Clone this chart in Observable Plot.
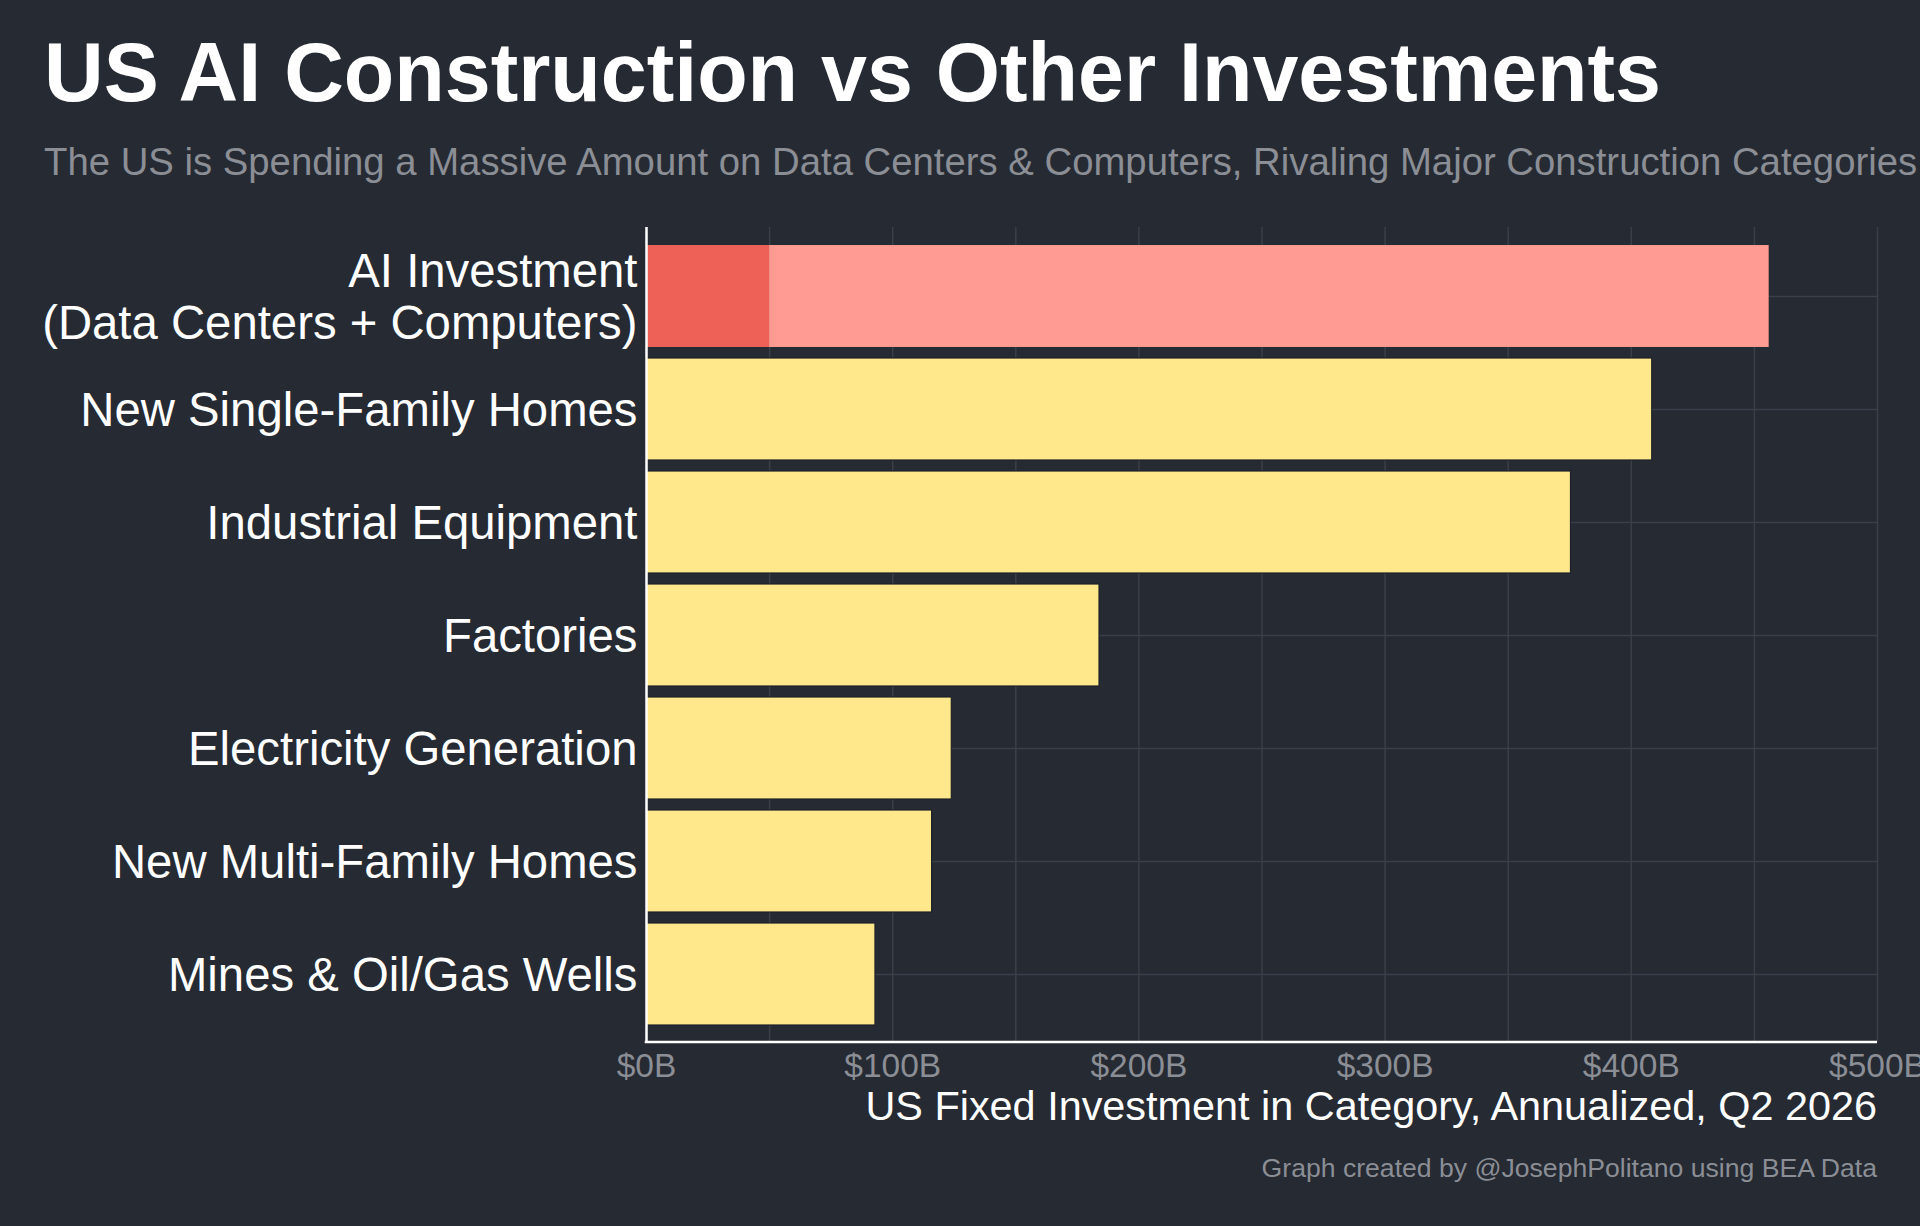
<!DOCTYPE html>
<html>
<head>
<meta charset="utf-8">
<script src="https://cdn.jsdelivr.net/npm/d3@7"></script>
<script src="https://cdn.jsdelivr.net/npm/@observablehq/plot@0.6"></script>
<style>
  html, body { margin: 0; padding: 0; background: #252a33; width: 1920px; height: 1226px; overflow: hidden;
    font-family: "Liberation Sans", Arial, Helvetica, sans-serif; }
  #wrap { position: relative; width: 1920px; height: 1226px; }
  .t { position: absolute; white-space: nowrap; line-height: 1; }
  #title { left: 44px; top: 31.5px; font-size: 82.6px; font-weight: bold; color: #ffffff; }
  #subtitle { left: 44px; top: 143px; font-size: 38.3px; color: #8b8e95; }
  #chart { position: absolute; left: 0; top: 200px; }
  #xtitle { right: 43px; top: 1085.7px; font-size: 41.4px; color: #ffffff; }
  #caption { right: 43px; top: 1155px; font-size: 26.6px; color: #8b8e95; }
</style>
</head>
<body>
<div id="wrap">
  <div id="title" class="t">US AI Construction vs Other Investments</div>
  <div id="subtitle" class="t">The US is Spending a Massive Amount on Data Centers &amp; Computers, Rivaling Major Construction Categories</div>
  <div id="chart"></div>
  <div id="xtitle" class="t">US Fixed Investment in Category, Annualized, Q2 2026</div>
  <div id="caption" class="t">Graph created by @JosephPolitano using BEA Data</div>
</div>
<script>
const categories = [
  "AI Investment\n(Data Centers + Computers)",
  "New Single-Family Homes",
  "Industrial Equipment",
  "Factories",
  "Electricity Generation",
  "New Multi-Family Homes",
  "Mines & Oil/Gas Wells"
];
const segments = ["Data Centers", "Computers", "Other"];
const segmentColors = ["#ee6157", "#ff9b92", "#ffe88c"];

const rowCategory = [
  "AI Investment\n(Data Centers + Computers)",
  "AI Investment\n(Data Centers + Computers)",
  "New Single-Family Homes",
  "Industrial Equipment",
  "Factories",
  "Electricity Generation",
  "New Multi-Family Homes",
  "Mines & Oil/Gas Wells"
];
const rowSegment = ["Data Centers", "Computers", "Other", "Other", "Other", "Other", "Other", "Other"];
const rowValue = [50, 406, 408.5, 375.5, 184, 124, 116, 93];

const xTicks = [0, 100, 200, 300, 400, 500];
const xGrid = [0, 50, 100, 150, 200, 250, 300, 350, 400, 450, 500];

const data = rowValue.map((v, i) => ({category: rowCategory[i], segment: rowSegment[i], value: v}));

const gridColor = "#3b3f49";

const bottomLine = (index, scales, values, dimensions) => {
  const {width, height, marginLeft, marginRight, marginBottom} = dimensions;
  const ns = "http://www.w3.org/2000/svg";
  const line = document.createElementNS(ns, "line");
  line.setAttribute("x1", marginLeft - 1.25);
  line.setAttribute("x2", width - marginRight);
  line.setAttribute("y1", height - marginBottom);
  line.setAttribute("y2", height - marginBottom);
  line.setAttribute("stroke", "#ffffff");
  line.setAttribute("stroke-width", 2.5);
  return line;
};

const chart = Plot.plot({
  width: 1920,
  height: 900,
  marginLeft: 646,
  marginRight: 43,
  marginTop: 27,
  marginBottom: 58,
  style: {background: "transparent", color: "#ffffff", fontFamily: "'Liberation Sans', Arial, Helvetica, sans-serif", overflow: "visible"},
  x: {domain: [0, 500]},
  y: {domain: categories, paddingInner: 0.1, paddingOuter: 0.14},
  color: {domain: segments, range: segmentColors},
  marks: [
    Plot.gridX(xGrid, {stroke: gridColor, strokeOpacity: 1, strokeWidth: 1.5}),
    Plot.gridY(categories, {stroke: gridColor, strokeOpacity: 1, strokeWidth: 1.5}),
    Plot.barX(data, {x: "value", y: "category", fill: "segment",
      stroke: d => d.segment === "Other" ? "#1f2229" : "none", strokeWidth: 1.2}),
    Plot.axisX(xTicks, {tickSize: 0, tickPadding: 11, fontSize: 33.5, fill: "#8b8e95", label: null, tickFormat: d => `$${d}B`}),
    Plot.axisY({tickSize: 0, tickPadding: 9, fontSize: 47.3, fill: "#ffffff", label: null, lineHeight: 1.09}),
    Plot.ruleX([0], {stroke: "#ffffff", strokeWidth: 2.5}),
    bottomLine
  ]
});
document.getElementById("chart").appendChild(chart);
</script>
</body>
</html>
